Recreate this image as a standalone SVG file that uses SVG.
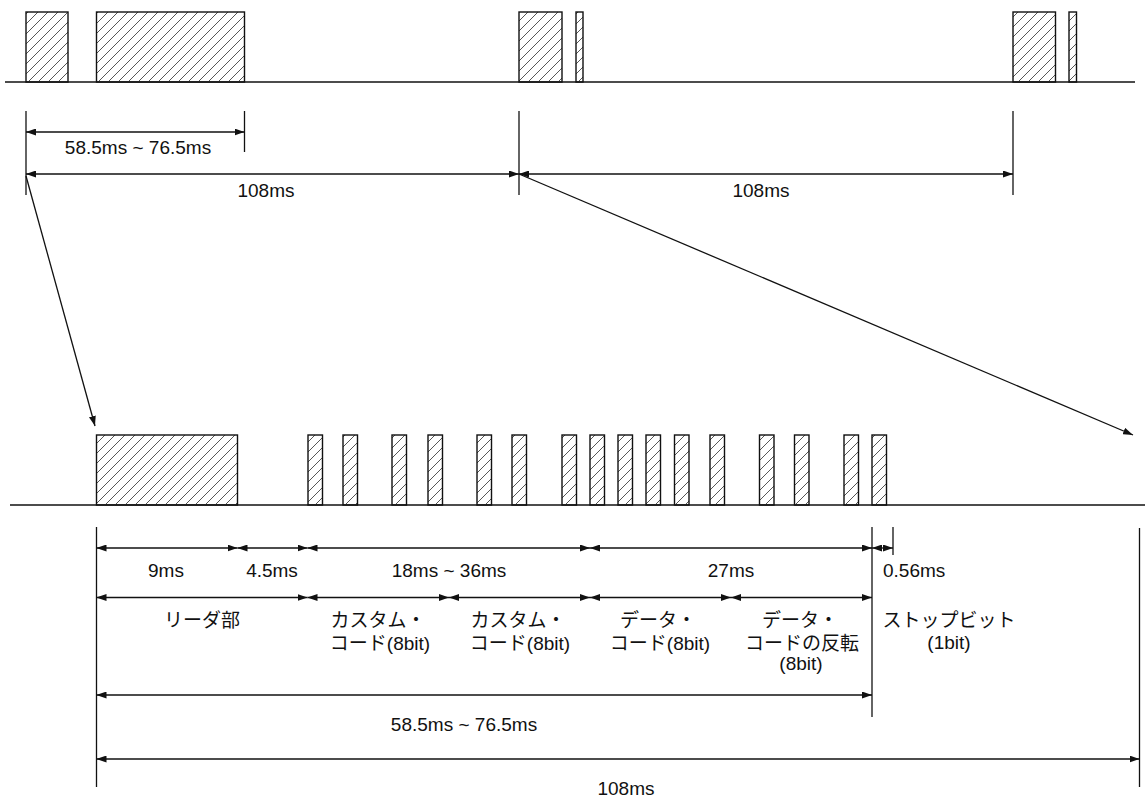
<svg xmlns="http://www.w3.org/2000/svg" width="1145" height="799" viewBox="0 0 1145 799">
<style>
.base{stroke:#111;stroke-width:1.5;fill:none}
.pulse{fill:url(#hatch);stroke:#111;stroke-width:1.4}
.dim{stroke:#111;stroke-width:1.3;fill:none}
.arr{stroke:#111;stroke-width:1.3;fill:none;marker-start:url(#ah);marker-end:url(#ah)}
.one{stroke:#111;stroke-width:1.3;fill:none;marker-end:url(#ah)}
text{font-family:"Liberation Sans","Noto Sans CJK JP",sans-serif;font-size:19px;fill:#111}
.m{text-anchor:middle}
</style>
<defs>
<pattern id="hatch" patternUnits="userSpaceOnUse" width="10" height="10">
<path d="M-1,11 L11,-1 M-6,6 L6,-6 M4,16 L16,4" stroke="#444" stroke-width="0.9"/>
</pattern>
<marker id="ah" markerUnits="userSpaceOnUse" markerWidth="10" markerHeight="7" refX="10" refY="3.5" orient="auto-start-reverse">
<path d="M0,0 L10,3.5 L0,7 z" fill="#111"/>
</marker>
</defs>

<g id="top-signal">
<line class="base" x1="5" y1="82" x2="1135" y2="82"/>
<rect class="pulse" x="26" y="12" width="42" height="70"/>
<rect class="pulse" x="96.5" y="12" width="148" height="70"/>
<rect class="pulse" x="519" y="12" width="43" height="70"/>
<rect class="pulse" x="576" y="12" width="7" height="70"/>
<rect class="pulse" x="1013" y="12" width="42.5" height="70"/>
<rect class="pulse" x="1069" y="12" width="7.5" height="70"/>
</g>

<g id="bottom-signal">
<line class="base" x1="10" y1="505" x2="1145" y2="505"/>
<rect class="pulse" x="96.5" y="435" width="141" height="70"/>
<rect class="pulse" x="308" y="435" width="14.5" height="70"/>
<rect class="pulse" x="343" y="435" width="14.5" height="70"/>
<rect class="pulse" x="392" y="435" width="14.5" height="70"/>
<rect class="pulse" x="428" y="435" width="14.5" height="70"/>
<rect class="pulse" x="477" y="435" width="14.5" height="70"/>
<rect class="pulse" x="512" y="435" width="14.5" height="70"/>
<rect class="pulse" x="562" y="435" width="14.5" height="70"/>
<rect class="pulse" x="590" y="435" width="14.5" height="70"/>
<rect class="pulse" x="618" y="435" width="14.5" height="70"/>
<rect class="pulse" x="646" y="435" width="14.5" height="70"/>
<rect class="pulse" x="674.5" y="435" width="14.5" height="70"/>
<rect class="pulse" x="710" y="435" width="14.5" height="70"/>
<rect class="pulse" x="759.5" y="435" width="14.5" height="70"/>
<rect class="pulse" x="794.5" y="435" width="14.5" height="70"/>
<rect class="pulse" x="844" y="435" width="14.5" height="70"/>
<rect class="pulse" x="872" y="435" width="14.5" height="70"/>
</g>

<g id="connectors">
<!-- top extension lines -->
<line class="dim" x1="26" y1="111" x2="26" y2="195"/>
<line class="dim" x1="244.5" y1="111" x2="244.5" y2="152"/>
<line class="dim" x1="519" y1="111" x2="519" y2="195"/>
<line class="dim" x1="1013" y1="111" x2="1013" y2="195"/>
<!-- top dimension arrows -->
<line class="arr" x1="26" y1="132" x2="244.5" y2="132"/>
<line class="arr" x1="26" y1="174" x2="519" y2="174"/>
<line class="arr" x1="519" y1="174" x2="1013" y2="174"/>
<!-- zoom arrows -->
<line class="one" x1="26" y1="176" x2="95" y2="426"/>
<line class="one" x1="519" y1="174" x2="1133" y2="435"/>
<!-- bottom extension lines -->
<line class="dim" x1="96.5" y1="527" x2="96.5" y2="787"/>
<line class="dim" x1="872" y1="527" x2="872" y2="717"/>
<line class="dim" x1="893" y1="527" x2="893" y2="555"/>
<line class="dim" x1="1139.5" y1="528" x2="1139.5" y2="787"/>
<!-- row 1 -->
<line class="arr" x1="96.5" y1="548" x2="237.5" y2="548"/>
<line class="arr" x1="237.5" y1="548" x2="307.5" y2="548"/>
<line class="arr" x1="307.5" y1="548" x2="590" y2="548"/>
<line class="arr" x1="590" y1="548" x2="872" y2="548"/>
<line class="arr" x1="872" y1="548" x2="893" y2="548"/>
<!-- row 2 -->
<line class="arr" x1="96.5" y1="597.5" x2="307.5" y2="597.5"/>
<line class="arr" x1="307.5" y1="597.5" x2="449" y2="597.5"/>
<line class="arr" x1="449" y1="597.5" x2="590" y2="597.5"/>
<line class="arr" x1="590" y1="597.5" x2="731" y2="597.5"/>
<line class="arr" x1="731" y1="597.5" x2="872" y2="597.5"/>
<!-- row 3 / 4 -->
<line class="arr" x1="96.5" y1="695" x2="872" y2="695"/>
<line class="arr" x1="96.5" y1="759" x2="1139.5" y2="759"/>
</g>

<g id="labels">
<text class="m" x="138" y="154">58.5ms ~ 76.5ms</text>
<text class="m" x="266" y="197">108ms</text>
<text class="m" x="761" y="197">108ms</text>

<text class="m" x="166" y="577">9ms</text>
<text class="m" x="272" y="577">4.5ms</text>
<text class="m" x="449" y="577">18ms ~ 36ms</text>
<text class="m" x="731" y="577">27ms</text>
<text x="883" y="577">0.56ms</text>

<text class="m" x="202" y="627">リーダ部</text>
<text class="m" x="378" y="627">カスタム・</text>
<text class="m" x="380" y="650">コード(8bit)</text>
<text class="m" x="518" y="627">カスタム・</text>
<text class="m" x="520" y="650">コード(8bit)</text>
<text class="m" x="658" y="627">データ・</text>
<text class="m" x="660" y="650">コード(8bit)</text>
<text class="m" x="800" y="627">データ・</text>
<text class="m" x="802" y="650">コードの反転</text>
<text class="m" x="801" y="670">(8bit)</text>
<text class="m" x="949" y="627">ストップビット</text>
<text class="m" x="949" y="649">(1bit)</text>

<text class="m" x="464" y="731">58.5ms ~ 76.5ms</text>
<text class="m" x="626" y="795">108ms</text>
</g>
</svg>
